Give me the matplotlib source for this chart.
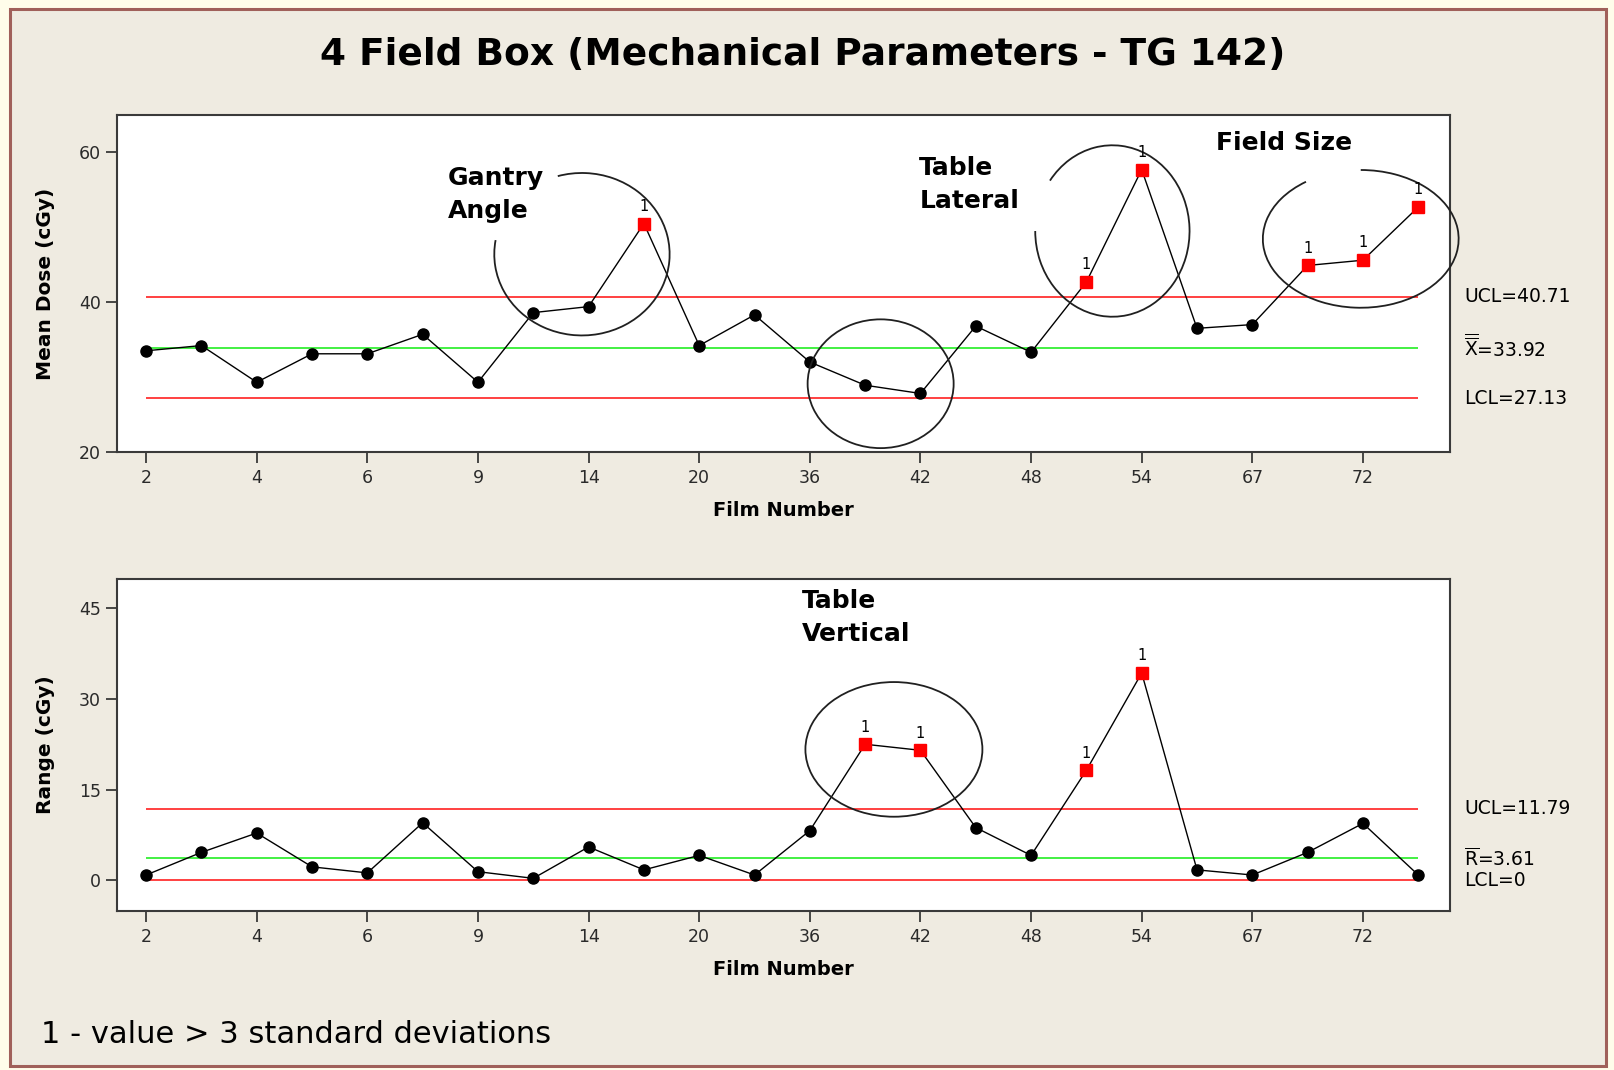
import numpy as np
import matplotlib.pyplot as plt
from matplotlib.patches import Arc, Rectangle

# ---- data -------------------------------------------------------------------
film_labels = ['2', '4', '6', '9', '14', '20', '36', '42', '48', '54', '67', '72']
mean_dose = [33.5, 34.2, 29.3, 33.1, 33.1, 35.7, 29.3, 38.6, 39.4, 50.5, 34.2, 38.3,
             32.0, 28.9, 27.8, 36.8, 33.3, 42.7, 57.7, 36.5, 37.0, 44.9, 45.6, 52.7]
range_dose = [0.85, 4.6, 7.8, 2.2, 1.2, 9.5, 1.4, 0.3, 5.5, 1.7, 4.1, 0.85,
              8.2, 22.5, 21.5, 8.7, 4.1, 18.2, 34.3, 1.7, 0.85, 4.6, 9.4, 0.85]
xbar_limits = [40.71, 33.92, 27.13]   # UCL, centre, LCL
r_limits = [11.79, 3.61, 0.0]
mean_flags = [10, 18, 19, 22, 23, 24]  # sample numbers flagged "1"
range_flags = [14, 15, 18, 19]

sample = np.arange(1, len(mean_dose) + 1)

BG = '#EFEBE1'
RED = '#FF2020'
GREEN = '#22EE22'
FONT = 'DejaVu Sans'


def arc_angle(t, w, h):
    # parametric angle -> angle Arc expects
    t = np.radians(t)
    return np.degrees(np.arctan2(h * np.sin(t), w * np.cos(t)))


def ring(ax, cx, cy, w, h, t1=0, t2=360):
    if t2 - t1 >= 360:
        a1, a2 = 0, 360
    else:
        a1, a2 = arc_angle(t1, w, h), arc_angle(t2, w, h)
    ax.add_patch(Arc((cx, cy), w, h, theta1=a1, theta2=a2, color='#202020',
                     lw=1.3, clip_on=False, zorder=4))


def panel(ax, values, limits, flags, ylim, yticks, ylabel, centre_name):
    ax.set_facecolor('white')
    ucl, cl, lcl = limits
    ax.hlines([ucl, lcl], sample[0], sample[-1], colors=RED, lw=1.2, zorder=1)
    ax.hlines(cl, sample[0], sample[-1], colors=GREEN, lw=1.2, zorder=1)
    ax.plot(sample, values, color='black', lw=1.0, marker='o', ms=8,
            mfc='black', mec='black', zorder=3)
    fx = np.array(flags)
    fy = np.array(values)[fx - 1]
    ax.plot(fx, fy, ls='none', marker='s', ms=9, mfc='#FF0000', mec='#FF0000', zorder=5)
    for x, y in zip(fx, fy):
        ax.annotate('1', (x, y), xytext=(0, 7), textcoords='offset points',
                    ha='center', va='bottom', fontsize=10.5, zorder=6)

    ax.set_xlim(0.48, 24.58)
    ax.set_ylim(*ylim)
    ax.set_yticks(yticks)
    ax.set_xticks(sample[::2])
    ax.set_xticklabels(film_labels)
    ax.tick_params(length=8, width=1.2, pad=4, labelsize=12.5, colors='#2a2a2a')
    for s in ax.spines.values():
        s.set_color('#3a3a3a')
        s.set_linewidth(1.5)

    ax.set_xlabel('Film Number', fontsize=14, fontweight='bold', va='center')
    ax.xaxis.set_label_coords(0.5, -0.175)
    ax.set_ylabel(ylabel, fontsize=14.5, fontweight='bold', va='center')
    ax.yaxis.set_label_coords(-0.054, 0.5)

    tr = ax.get_yaxis_transform()
    ax.text(1.0103, ucl, 'UCL=%g' % ucl, transform=tr, va='center', fontsize=13.5)
    ax.text(1.0103, cl, '%s=%g' % (centre_name, cl), transform=tr, va='center',
            fontsize=13.5)
    ax.text(1.0103, lcl, 'LCL=%g' % lcl, transform=tr, va='center', fontsize=13.5)


plt.rcParams['font.family'] = FONT
plt.rcParams['mathtext.fontset'] = 'dejavusans'
plt.rcParams['mathtext.default'] = 'regular'
fig = plt.figure(figsize=(16.14, 10.70), dpi=100, facecolor='#FFFDEA')
fig.patches.append(Rectangle((0.006, 0.004), 0.989, 0.988, transform=fig.transFigure,
                             facecolor=BG, edgecolor='#A0605A', lw=2.2, zorder=-1))

ax1 = fig.add_axes([0.0727, 0.5777, 0.8259, 0.3145])
ax2 = fig.add_axes([0.0727, 0.1486, 0.8259, 0.3107])

panel(ax1, mean_dose, xbar_limits, mean_flags, (20, 64.95), [20, 40, 60],
      'Mean Dose (cGy)', r'$\overline{\overline{X}}$')
panel(ax2, range_dose, r_limits, range_flags, (-5.11, 49.94), [0, 15, 30, 45],
      'Range (cGy)', r'$\overline{R}$')

# hand-drawn rings and notes
ring(ax1, 8.88, 46.4, 3.17, 21.7, 170, 466)
ring(ax1, 14.28, 29.1, 2.64, 17.2)
ring(ax1, 18.47, 49.5, 2.79, 22.9, 180, 504)
ring(ax1, 22.96, 48.45, 3.54, 18.4, 124, 450)
ring(ax2, 14.52, 21.65, 3.2, 22.3)

note = dict(fontsize=18, fontweight='bold', ha='left', va='center', linespacing=1.45)
ax1.text(6.46, 54.4, 'Gantry\nAngle', **note)
ax1.text(14.98, 55.7, 'Table\nLateral', **note)
ax1.text(20.35, 61.2, 'Field Size', **note)
ax2.text(12.86, 43.5, 'Table\nVertical', **note)

fig.text(0.4975, 0.949, '4 Field Box (Mechanical Parameters - TG 142)',
         ha='center', va='center', fontsize=27, fontweight='bold')
fig.text(0.0254, 0.0336, '1 - value > 3 standard deviations',
         ha='left', va='center', fontsize=22)

fig.savefig('out.png', dpi=100, facecolor=fig.get_facecolor())
